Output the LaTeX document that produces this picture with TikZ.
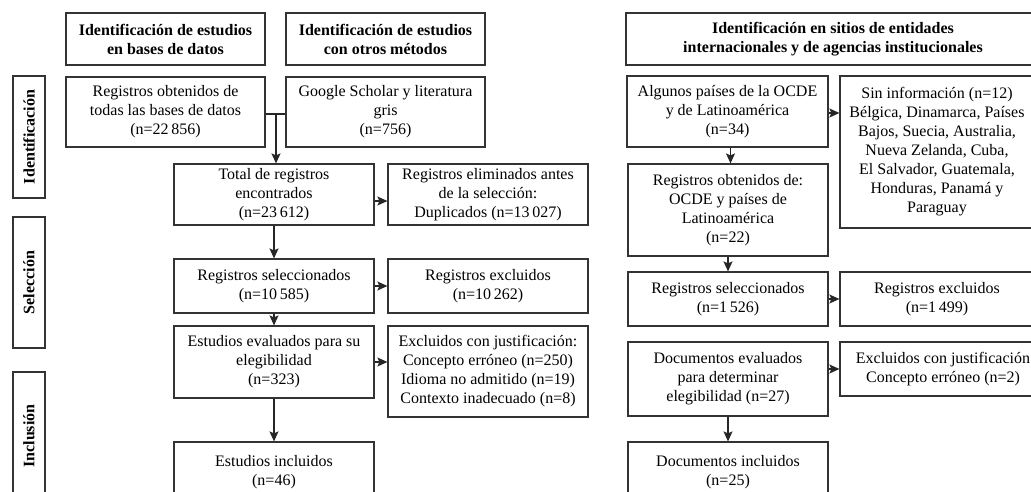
\documentclass[tikz,border=0pt]{standalone}
\usepackage{fontspec}
\setmainfont{Liberation Serif}
\usetikzlibrary{arrows.meta}
\begin{document}
\begin{tikzpicture}[x=1pt,y=-1pt,
  box/.style={draw=black!80, line width=1.2pt, rectangle, inner sep=0pt, align=center, font=\fontsize{16}{19}\selectfont},
  hbox/.style={box, font=\fontsize{16}{19}\selectfont\bfseries},
  side/.style={box, rotate=90, minimum height=32pt, font=\fontsize{16}{19}\selectfont\bfseries},
  arr/.style={-{Stealth[length=10pt,width=9pt,inset=2pt]}, line width=1.2pt, draw=black!85},
  ln/.style={line width=1.2pt, draw=black!85}]
\useasboundingbox (0,0) rectangle (1031,491);
\clip (0,0) rectangle (1031,491);
% headers
\node[hbox, minimum width=199pt, minimum height=52pt] (h1) at (165.5,39) {Identificación de estudios\\en bases de datos};
\node[hbox, minimum width=199pt, minimum height=52pt] (h2) at (385.5,39) {Identificación de estudios\\con otros métodos};
\node[hbox, minimum width=414pt, minimum height=52pt] (h3) at (833,39) {Identificación en sitios de entidades\\internacionales y de agencias institucionales};
% side labels
\node[side, minimum width=122pt] (s1) at (29,137) {Identificación};
\node[side, minimum width=131pt] (s2) at (29,282.5) {Selección};
\node[side, minimum width=128pt] (s3) at (29,436) {Inclusión};
% left column
\node[box, minimum width=199pt, minimum height=70pt] (a1) at (165.5,112) {Registros obtenidos de\\todas las bases de datos\\(n=22\,856)};
\node[box, minimum width=199pt, minimum height=70pt] (a2) at (385.5,112) {Google Scholar y literatura\\gris\\(n=756)};
\coordinate (m) at (276,114);
\node[box, minimum width=200pt, minimum height=61pt] (b1) at (274,194.5) {Total de registros\\encontrados\\(n=23\,612)};
\node[box, minimum width=200pt, minimum height=61pt] (b2) at (488,194.5) {Registros eliminados antes\\de la selección:\\Duplicados (n=13\,027)};
\node[box, minimum width=200pt, minimum height=54pt] (c1) at (274,286) {Registros seleccionados\\(n=10\,585)};
\node[box, minimum width=200pt, minimum height=54pt] (c2) at (488,286) {Registros excluidos\\(n=10\,262)};
\node[box, minimum width=200pt, minimum height=72pt] (d1) at (274,362) {Estudios evaluados para su\\elegibilidad\\(n=323)};
\node[box, minimum width=200pt, minimum height=91pt] (d2) at (488,371.5) {Excluidos con justificación:\\Concepto erróneo (n=250)\\Idioma no admitido (n=19)\\Contexto inadecuado (n=8)};
\node[box, minimum width=200pt, minimum height=60pt] (e1) at (274,472) {Estudios incluidos\\(n=46)};
% right column
\node[box, minimum width=201pt, minimum height=71pt] (r1) at (727.5,111.5) {Algunos países de la OCDE\\y de Latinoamérica\\(n=34)};
\node[box, minimum width=194pt, minimum height=152pt] (r2) at (937,152) {Sin información (n=12)\\Bélgica, Dinamarca, Países\\Bajos, Suecia, Australia,\\Nueva Zelanda, Cuba,\\El Salvador, Guatemala,\\Honduras, Panamá y\\Paraguay};
\node[box, minimum width=200pt, minimum height=92pt] (r3) at (728,210) {Registros obtenidos de:\\OCDE y países de\\Latinoamérica\\(n=22)};
\node[box, minimum width=200pt, minimum height=54pt] (r4) at (728,299) {Registros seleccionados\\(n=1\,526)};
\node[box, minimum width=194pt, minimum height=54pt] (r5) at (937,299) {Registros excluidos\\(n=1\,499)};
\node[box, minimum width=200pt, minimum height=74pt] (r6) at (728,379) {Documentos evaluados\\para determinar\\elegibilidad (n=27)};
\node[box, minimum width=206pt, minimum height=54pt] (r7) at (943,369) {Excluidos con justificación\\Concepto erróneo (n=2)};
\node[box, minimum width=200pt, minimum height=60pt] (r8) at (728,472) {Documentos incluidos\\(n=25)};
% connectors left
\draw[ln] (a1.east |- m) -- (m) -- (a2.west |- m);
\draw[arr] (m) -- (m |- b1.north);
\draw[arr] ([yshift=-6.5pt]b1.east) -- ([yshift=-6.5pt]b2.west);
\draw[arr] (b1.south) -- (c1.north);
\draw[arr] (c1.east) -- (c2.west);
\draw[arr] (c1.south) -- (d1.north);
\draw[arr] (d1.east) -- (d1.east -| d2.west);
\draw[arr] (d1.south) -- (e1.north);
% connectors right
\draw[arr] ([yshift=-1.5pt]r1.east) -- ([yshift=-1.5pt]r1.east -| r2.west);
\draw[arr] ([xshift=3pt]r1.south) -- ([xshift=3pt]r1.south |- r3.north);
\draw[arr] (r3.south) -- (r4.north);
\draw[arr] (r4.east) -- (r4.east -| r5.west);
\draw[arr] (r7.west -| r6.east) -- (r7.west);
\draw[arr] (r6.south) -- (r8.north);
\end{tikzpicture}
\end{document}
